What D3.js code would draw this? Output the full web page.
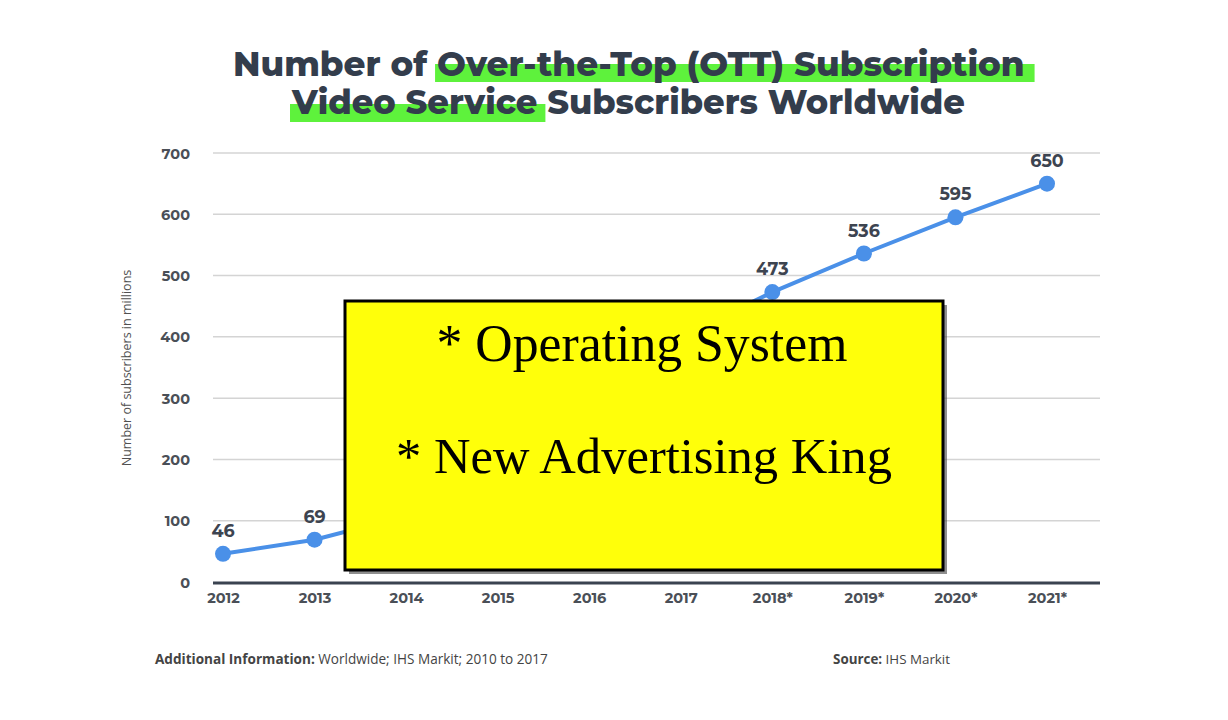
<!DOCTYPE html>
<html><head><meta charset="utf-8">
<script src="https://cdn.jsdelivr.net/npm/d3@7"></script>
<style>body{margin:0;background:#fff}svg{display:block}</style>
</head><body>
<svg id="c" width="1228" height="720"></svg>
<script>
const years = ["2012","2013","2014","2015","2016","2017","2018*","2019*","2020*","2021*"];
const subscribers = [46,69,108,180,285,400,473,536,595,650];
const yTicks = [0,100,200,300,400,500,600,700];
const titleLine1 = ["Number of ", "Over-the-Top (OTT) Subscription"];
const titleLine2 = ["Video Service", " Subscribers Worldwide"];
const boxLines = ["* Operating System", "* New Advertising King"];

const svg = d3.select("#c");
svg.append("rect").attr("width",1228).attr("height",720).attr("fill","#fff");

const x = d3.scalePoint().domain(years).range([223,1047]);
const y = d3.scaleLinear().domain([0,700]).range([582,153]);
const box = {x:345, y:301, w:598, h:269};
const SANS = "Montserrat, 'Open Sans', sans-serif";

function fit(sel, base, width){
  sel.attr("font-size", base);
  const w = sel.node().getComputedTextLength();
  sel.attr("font-size", base*width/w);
}

// gridlines
svg.append("g").selectAll("line").data(yTicks.filter(d=>d>0)).join("line")
  .attr("x1",213).attr("x2",1100).attr("y1",d=>y(d)).attr("y2",d=>y(d))
  .attr("stroke","#d4d4d4").attr("stroke-width",1.5);
svg.append("line").attr("x1",213).attr("x2",1100).attr("y1",y(0)+1).attr("y2",y(0)+1)
  .attr("stroke","#3a4350").attr("stroke-width",3);

// y axis labels
const yAxis = d3.axisLeft(y).tickValues(yTicks).tickSize(0).tickPadding(0);
const ga = svg.append("g").attr("transform","translate(190,0)").call(yAxis);
ga.select(".domain").remove();
ga.selectAll("text").attr("font-family",SANS).attr("font-weight",700)
  .attr("font-size",14.5).attr("fill","#4a4f57").attr("dy","0.35em");

// x axis labels
const xAxis = d3.axisBottom(x).tickSize(0).tickPadding(0);
const gx = svg.append("g").attr("transform","translate(0,593)").call(xAxis);
gx.select(".domain").remove();
gx.selectAll("text").attr("font-family",SANS).attr("font-weight",700)
  .attr("font-size",14.5).attr("fill","#4a4f57").attr("dy","0.71em");

// y title
svg.append("text").attr("transform","translate(131,368) rotate(-90)").attr("text-anchor","middle")
  .attr("font-family","'Open Sans', sans-serif").attr("font-size",12.5).attr("fill","#505050")
  .text("Number of subscribers in millions");

// line
const data = years.map((yr,i)=>({yr, v:subscribers[i]}));
svg.append("path").datum(data)
  .attr("d", d3.line().x(d=>x(d.yr)).y(d=>y(d.v)))
  .attr("fill","none").attr("stroke","#4a90e8").attr("stroke-width",4);
svg.append("g").selectAll("circle").data(data).join("circle")
  .attr("cx",d=>x(d.yr)).attr("cy",d=>y(d.v)).attr("r",8).attr("fill","#4a90e8");
// value labels (only those not hidden behind the overlay box)
const hidden = d => x(d.yr) > box.x && x(d.yr) < box.x+box.w && y(d.v)-30 < box.y+box.h && y(d.v)-10 > box.y - 12;
svg.append("g").selectAll("text").data(data.filter(d=>!hidden(d))).join("text")
  .attr("x",d=>x(d.yr)).attr("y",d=>y(d.v)-17).attr("text-anchor","middle")
  .attr("font-family",SANS).attr("font-weight",700).attr("font-size",17.5)
  .attr("fill","#3d4450").text(d=>d.v);

// title
const hl = svg.append("g");
function titleLine(parts, yBase, x0, x1, hlIndex, padL, padR, hy0, hy1){
  const t = svg.append("text").attr("x",x0).attr("y",yBase)
    .attr("font-family",SANS).attr("font-weight",800).attr("fill","#333d4c");
  parts.forEach(p=>t.append("tspan").text(p));
  fit(t, 32, x1-x0);
  let start = 0;
  for(let i=0;i<hlIndex;i++) start += parts[i].length;
  const n = t.node();
  const sx = x0 + (start>0 ? n.getSubStringLength(0,start) : 0);
  const sw = n.getSubStringLength(start, parts[hlIndex].length);
  hl.append("rect").attr("x",sx-padL).attr("y",hy0).attr("width",sw+padL+padR).attr("height",hy1-hy0)
    .attr("fill","#5ef23c");
}
titleLine(titleLine1, 76, 233, 1025, 1, 2, 10, 64, 82);
titleLine(titleLine2, 114, 292, 965, 0, 2, 8, 104, 122);

// footer
const f1 = svg.append("text").attr("x",155).attr("y",664).attr("font-family","'Open Sans', sans-serif")
  .attr("fill","#444");
f1.append("tspan").attr("font-weight",700).text("Additional Information: ");
f1.append("tspan").text("Worldwide; IHS Markit; 2010 to 2017");
fit(f1, 12.5, 393);
const f2 = svg.append("text").attr("x",950).attr("y",664).attr("text-anchor","end")
  .attr("font-family","'Open Sans', sans-serif").attr("fill","#444");
f2.append("tspan").attr("font-weight",700).text("Source: ");
f2.append("tspan").text("IHS Markit");
fit(f2, 12.5, 117);

// overlay box
svg.append("rect").attr("x",box.x+4).attr("y",box.y+4).attr("width",box.w).attr("height",box.h).attr("fill","#444").attr("opacity",0.6);
svg.append("rect").attr("x",box.x).attr("y",box.y).attr("width",box.w).attr("height",box.h)
  .attr("fill","#ffff0a").attr("stroke","#000").attr("stroke-width",3);
const b1 = svg.append("text").attr("x",642).attr("y",361).attr("text-anchor","middle")
  .attr("font-family","'Liberation Serif', 'DejaVu Serif', serif").attr("fill","#000")
  .text(boxLines[0]);
fit(b1, 46, 411);
const b2 = svg.append("text").attr("x",644).attr("y",473).attr("text-anchor","middle")
  .attr("font-family","'Liberation Serif', 'DejaVu Serif', serif").attr("fill","#000")
  .text(boxLines[1]);
fit(b2, 46, 496);
</script>
</body></html>
